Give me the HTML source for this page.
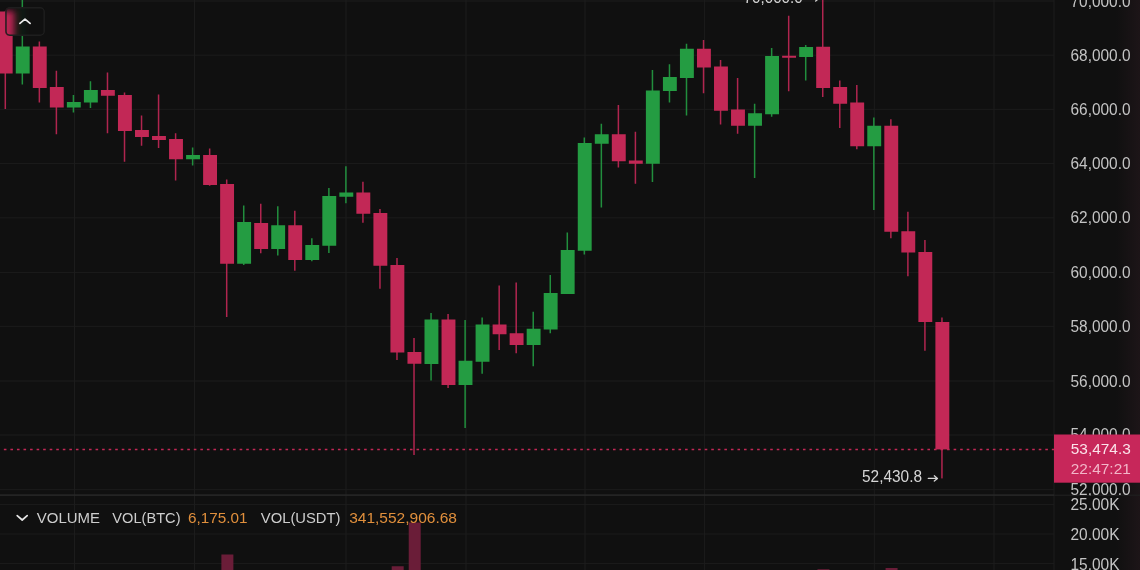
<!DOCTYPE html><html><head><meta charset="utf-8"><title>Chart</title><style>html,body{margin:0;padding:0;background:#101010;overflow:hidden}svg{display:block;filter:blur(0.45px)}text{font-family:"Liberation Sans",sans-serif}</style></head><body>
<svg width="1140" height="570" viewBox="0 0 1140 570">
<defs><linearGradient id="edge" x1="0" x2="1" y1="0" y2="0"><stop offset="0" stop-color="#2a1a20" stop-opacity="0"/><stop offset="1" stop-color="#2a1a20" stop-opacity="0.5"/></linearGradient><linearGradient id="btn" x1="0" x2="1" y1="0" y2="0"><stop offset="0" stop-color="#c8285c" stop-opacity="0.95"/><stop offset="0.12" stop-color="#c8285c" stop-opacity="0.7"/><stop offset="0.36" stop-color="#c8285c" stop-opacity="0"/></linearGradient></defs>
<rect width="1140" height="570" fill="#101010"/>
<rect x="1116" y="0" width="24" height="570" fill="url(#edge)"/>
<rect x="0" y="0.50" width="1054" height="1" fill="#1c1c1c"/>
<rect x="0" y="54.70" width="1054" height="1" fill="#1c1c1c"/>
<rect x="0" y="108.80" width="1054" height="1" fill="#1c1c1c"/>
<rect x="0" y="163.10" width="1054" height="1" fill="#1c1c1c"/>
<rect x="0" y="217.30" width="1054" height="1" fill="#1c1c1c"/>
<rect x="0" y="271.90" width="1054" height="1" fill="#1c1c1c"/>
<rect x="0" y="325.80" width="1054" height="1" fill="#1c1c1c"/>
<rect x="0" y="380.50" width="1054" height="1" fill="#1c1c1c"/>
<rect x="0" y="434.50" width="1054" height="1" fill="#1c1c1c"/>
<rect x="0" y="489.20" width="1054" height="1" fill="#1c1c1c"/>
<rect x="0" y="504.00" width="1054" height="1" fill="#1a1a1a"/>
<rect x="0" y="533.50" width="1054" height="1" fill="#1a1a1a"/>
<rect x="0" y="563.00" width="1054" height="1" fill="#1a1a1a"/>
<rect x="74.00" y="0" width="1" height="570" fill="#1c1c1c"/>
<rect x="194.00" y="0" width="1" height="570" fill="#1c1c1c"/>
<rect x="345.50" y="0" width="1" height="570" fill="#1c1c1c"/>
<rect x="465.50" y="0" width="1" height="570" fill="#1c1c1c"/>
<rect x="584.50" y="0" width="1" height="570" fill="#1c1c1c"/>
<rect x="703.90" y="0" width="1" height="570" fill="#1c1c1c"/>
<rect x="873.80" y="0" width="1" height="570" fill="#1c1c1c"/>
<rect x="993.50" y="0" width="1" height="570" fill="#1c1c1c"/>
<rect x="1053.5" y="0" width="1" height="570" fill="#1c1c1c"/>
<rect x="0" y="494.4" width="1054" height="1.4" fill="#2a2a2a"/>
<rect x="1054" y="494.6" width="86" height="1.2" fill="#202020"/>
<clipPath id="ax"><rect x="1054" y="-10" width="86" height="505.4"/></clipPath>
<rect x="221.39" y="554.50" width="12" height="15.50" fill="#6a1d38"/>
<rect x="408.72" y="522.50" width="12" height="47.50" fill="#6a1d38"/>
<rect x="391.69" y="566.25" width="12" height="3.75" fill="#6a1d38"/>
<rect x="817.44" y="569.20" width="12" height="0.80" fill="#6a1d38"/>
<rect x="885.56" y="568.00" width="12" height="2.00" fill="#6a1d38"/>
<rect x="4.55" y="11.50" width="1.50" height="97.50" fill="#c22856" fill-opacity="0.9"/>
<rect x="-1.25" y="11.50" width="13.90" height="62.00" fill="#c22856"/>
<rect x="21.58" y="0.00" width="1.50" height="84.50" fill="#249c42" fill-opacity="0.9"/>
<rect x="15.78" y="46.50" width="13.90" height="27.00" fill="#249c42"/>
<rect x="38.61" y="41.50" width="1.50" height="61.00" fill="#c22856" fill-opacity="0.9"/>
<rect x="32.81" y="46.50" width="13.90" height="41.50" fill="#c22856"/>
<rect x="55.64" y="70.75" width="1.50" height="63.50" fill="#c22856" fill-opacity="0.9"/>
<rect x="49.84" y="87.00" width="13.90" height="20.50" fill="#c22856"/>
<rect x="72.67" y="95.00" width="1.50" height="17.50" fill="#249c42" fill-opacity="0.9"/>
<rect x="66.87" y="102.00" width="13.90" height="5.50" fill="#249c42"/>
<rect x="89.70" y="81.25" width="1.50" height="26.75" fill="#249c42" fill-opacity="0.9"/>
<rect x="83.90" y="90.00" width="13.90" height="12.50" fill="#249c42"/>
<rect x="106.73" y="72.50" width="1.50" height="60.75" fill="#c22856" fill-opacity="0.9"/>
<rect x="100.93" y="90.00" width="13.90" height="5.75" fill="#c22856"/>
<rect x="123.76" y="92.50" width="1.50" height="69.25" fill="#c22856" fill-opacity="0.9"/>
<rect x="117.96" y="95.00" width="13.90" height="36.00" fill="#c22856"/>
<rect x="140.79" y="115.50" width="1.50" height="30.25" fill="#c22856" fill-opacity="0.9"/>
<rect x="134.99" y="130.00" width="13.90" height="7.00" fill="#c22856"/>
<rect x="157.82" y="94.50" width="1.50" height="53.50" fill="#c22856" fill-opacity="0.9"/>
<rect x="152.02" y="136.00" width="13.90" height="4.00" fill="#c22856"/>
<rect x="174.85" y="133.25" width="1.50" height="47.25" fill="#c22856" fill-opacity="0.9"/>
<rect x="169.05" y="139.00" width="13.90" height="20.25" fill="#c22856"/>
<rect x="191.88" y="147.50" width="1.50" height="18.00" fill="#249c42" fill-opacity="0.9"/>
<rect x="186.08" y="155.00" width="13.90" height="4.25" fill="#249c42"/>
<rect x="208.91" y="148.50" width="1.50" height="37.25" fill="#c22856" fill-opacity="0.9"/>
<rect x="203.11" y="155.00" width="13.90" height="30.00" fill="#c22856"/>
<rect x="225.94" y="179.50" width="1.50" height="137.50" fill="#c22856" fill-opacity="0.9"/>
<rect x="220.14" y="184.00" width="13.90" height="79.75" fill="#c22856"/>
<rect x="242.97" y="205.50" width="1.50" height="59.50" fill="#249c42" fill-opacity="0.9"/>
<rect x="237.17" y="222.00" width="13.90" height="41.75" fill="#249c42"/>
<rect x="260.00" y="203.75" width="1.50" height="49.50" fill="#c22856" fill-opacity="0.9"/>
<rect x="254.20" y="223.00" width="13.90" height="26.00" fill="#c22856"/>
<rect x="277.03" y="206.25" width="1.50" height="49.25" fill="#249c42" fill-opacity="0.9"/>
<rect x="271.23" y="225.25" width="13.90" height="23.75" fill="#249c42"/>
<rect x="294.06" y="210.75" width="1.50" height="60.00" fill="#c22856" fill-opacity="0.9"/>
<rect x="288.26" y="225.25" width="13.90" height="34.75" fill="#c22856"/>
<rect x="311.09" y="238.25" width="1.50" height="23.00" fill="#249c42" fill-opacity="0.9"/>
<rect x="305.29" y="245.00" width="13.90" height="15.00" fill="#249c42"/>
<rect x="328.12" y="188.00" width="1.50" height="65.00" fill="#249c42" fill-opacity="0.9"/>
<rect x="322.32" y="196.00" width="13.90" height="49.75" fill="#249c42"/>
<rect x="345.15" y="166.25" width="1.50" height="37.00" fill="#249c42" fill-opacity="0.9"/>
<rect x="339.35" y="192.50" width="13.90" height="4.25" fill="#249c42"/>
<rect x="362.18" y="181.75" width="1.50" height="41.00" fill="#c22856" fill-opacity="0.9"/>
<rect x="356.38" y="192.50" width="13.90" height="21.25" fill="#c22856"/>
<rect x="379.21" y="209.00" width="1.50" height="79.75" fill="#c22856" fill-opacity="0.9"/>
<rect x="373.41" y="213.00" width="13.90" height="52.75" fill="#c22856"/>
<rect x="396.24" y="258.00" width="1.50" height="102.00" fill="#c22856" fill-opacity="0.9"/>
<rect x="390.44" y="265.00" width="13.90" height="87.50" fill="#c22856"/>
<rect x="413.27" y="338.00" width="1.50" height="117.00" fill="#c22856" fill-opacity="0.9"/>
<rect x="407.47" y="352.00" width="13.90" height="11.75" fill="#c22856"/>
<rect x="430.30" y="313.00" width="1.50" height="67.50" fill="#249c42" fill-opacity="0.9"/>
<rect x="424.50" y="319.50" width="13.90" height="44.50" fill="#249c42"/>
<rect x="447.33" y="314.00" width="1.50" height="74.00" fill="#c22856" fill-opacity="0.9"/>
<rect x="441.53" y="319.50" width="13.90" height="65.50" fill="#c22856"/>
<rect x="464.36" y="320.00" width="1.50" height="108.00" fill="#249c42" fill-opacity="0.9"/>
<rect x="458.56" y="360.75" width="13.90" height="24.25" fill="#249c42"/>
<rect x="481.39" y="317.50" width="1.50" height="56.25" fill="#249c42" fill-opacity="0.9"/>
<rect x="475.59" y="324.50" width="13.90" height="37.25" fill="#249c42"/>
<rect x="498.42" y="285.50" width="1.50" height="64.50" fill="#c22856" fill-opacity="0.9"/>
<rect x="492.62" y="324.50" width="13.90" height="9.75" fill="#c22856"/>
<rect x="515.45" y="282.50" width="1.50" height="70.75" fill="#c22856" fill-opacity="0.9"/>
<rect x="509.65" y="333.25" width="13.90" height="11.75" fill="#c22856"/>
<rect x="532.48" y="311.75" width="1.50" height="54.50" fill="#249c42" fill-opacity="0.9"/>
<rect x="526.68" y="328.75" width="13.90" height="16.25" fill="#249c42"/>
<rect x="549.51" y="275.00" width="1.50" height="58.25" fill="#249c42" fill-opacity="0.9"/>
<rect x="543.71" y="293.00" width="13.90" height="36.50" fill="#249c42"/>
<rect x="566.54" y="232.50" width="1.50" height="61.50" fill="#249c42" fill-opacity="0.9"/>
<rect x="560.74" y="250.00" width="13.90" height="44.00" fill="#249c42"/>
<rect x="583.57" y="137.50" width="1.50" height="117.00" fill="#249c42" fill-opacity="0.9"/>
<rect x="577.77" y="143.00" width="13.90" height="107.75" fill="#249c42"/>
<rect x="600.60" y="123.75" width="1.50" height="83.75" fill="#249c42" fill-opacity="0.9"/>
<rect x="594.80" y="134.25" width="13.90" height="9.50" fill="#249c42"/>
<rect x="617.63" y="105.00" width="1.50" height="62.50" fill="#c22856" fill-opacity="0.9"/>
<rect x="611.83" y="134.25" width="13.90" height="27.00" fill="#c22856"/>
<rect x="634.66" y="131.75" width="1.50" height="52.00" fill="#c22856" fill-opacity="0.9"/>
<rect x="628.86" y="160.50" width="13.90" height="3.25" fill="#c22856"/>
<rect x="651.69" y="70.00" width="1.50" height="112.00" fill="#249c42" fill-opacity="0.9"/>
<rect x="645.89" y="90.50" width="13.90" height="73.25" fill="#249c42"/>
<rect x="668.72" y="64.25" width="1.50" height="38.25" fill="#249c42" fill-opacity="0.9"/>
<rect x="662.92" y="77.00" width="13.90" height="14.00" fill="#249c42"/>
<rect x="685.75" y="43.75" width="1.50" height="71.75" fill="#249c42" fill-opacity="0.9"/>
<rect x="679.95" y="48.75" width="13.90" height="29.25" fill="#249c42"/>
<rect x="702.78" y="40.00" width="1.50" height="53.25" fill="#c22856" fill-opacity="0.9"/>
<rect x="696.98" y="48.75" width="13.90" height="18.75" fill="#c22856"/>
<rect x="719.81" y="60.00" width="1.50" height="64.50" fill="#c22856" fill-opacity="0.9"/>
<rect x="714.01" y="66.50" width="13.90" height="44.25" fill="#c22856"/>
<rect x="736.84" y="78.00" width="1.50" height="55.75" fill="#c22856" fill-opacity="0.9"/>
<rect x="731.04" y="109.50" width="13.90" height="16.25" fill="#c22856"/>
<rect x="753.87" y="103.75" width="1.50" height="74.25" fill="#249c42" fill-opacity="0.9"/>
<rect x="748.07" y="113.25" width="13.90" height="12.50" fill="#249c42"/>
<rect x="770.90" y="48.00" width="1.50" height="68.75" fill="#249c42" fill-opacity="0.9"/>
<rect x="765.10" y="56.00" width="13.90" height="58.25" fill="#249c42"/>
<rect x="787.93" y="15.75" width="1.50" height="75.50" fill="#c22856" fill-opacity="0.9"/>
<rect x="782.13" y="55.75" width="13.90" height="2.00" fill="#c22856"/>
<rect x="804.96" y="45.00" width="1.50" height="35.50" fill="#249c42" fill-opacity="0.9"/>
<rect x="799.16" y="47.00" width="13.90" height="10.00" fill="#249c42"/>
<rect x="821.99" y="0.00" width="1.50" height="97.00" fill="#c22856" fill-opacity="0.9"/>
<rect x="816.19" y="46.75" width="13.90" height="41.25" fill="#c22856"/>
<rect x="839.02" y="80.50" width="1.50" height="47.50" fill="#c22856" fill-opacity="0.9"/>
<rect x="833.22" y="87.00" width="13.90" height="16.75" fill="#c22856"/>
<rect x="856.05" y="85.00" width="1.50" height="64.25" fill="#c22856" fill-opacity="0.9"/>
<rect x="850.25" y="102.50" width="13.90" height="43.75" fill="#c22856"/>
<rect x="873.08" y="117.50" width="1.50" height="92.50" fill="#249c42" fill-opacity="0.9"/>
<rect x="867.28" y="125.75" width="13.90" height="20.50" fill="#249c42"/>
<rect x="890.11" y="119.25" width="1.50" height="119.00" fill="#c22856" fill-opacity="0.9"/>
<rect x="884.31" y="125.75" width="13.90" height="106.00" fill="#c22856"/>
<rect x="907.14" y="211.75" width="1.50" height="64.50" fill="#c22856" fill-opacity="0.9"/>
<rect x="901.34" y="231.25" width="13.90" height="21.25" fill="#c22856"/>
<rect x="924.17" y="240.00" width="1.50" height="110.75" fill="#c22856" fill-opacity="0.9"/>
<rect x="918.37" y="252.00" width="13.90" height="70.00" fill="#c22856"/>
<rect x="941.20" y="317.50" width="1.50" height="160.90" fill="#c22856" fill-opacity="0.9"/>
<rect x="935.40" y="322.00" width="13.90" height="127.40" fill="#c22856"/>
<line x1="-2.7" y1="449.5" x2="1054" y2="449.5" stroke="#c22856" stroke-width="1.7" stroke-dasharray="2.6 3.95"/>
<text x="1070.50" y="6.73" font-size="16" fill="#c4c4c4" textLength="60.00" lengthAdjust="spacingAndGlyphs" clip-path="url(#ax)">70,000.0</text>
<text x="1070.50" y="60.73" font-size="16" fill="#c4c4c4" textLength="60.00" lengthAdjust="spacingAndGlyphs" clip-path="url(#ax)">68,000.0</text>
<text x="1070.50" y="114.73" font-size="16" fill="#c4c4c4" textLength="60.00" lengthAdjust="spacingAndGlyphs" clip-path="url(#ax)">66,000.0</text>
<text x="1070.50" y="168.73" font-size="16" fill="#c4c4c4" textLength="60.00" lengthAdjust="spacingAndGlyphs" clip-path="url(#ax)">64,000.0</text>
<text x="1070.50" y="222.73" font-size="16" fill="#c4c4c4" textLength="60.00" lengthAdjust="spacingAndGlyphs" clip-path="url(#ax)">62,000.0</text>
<text x="1070.50" y="277.73" font-size="16" fill="#c4c4c4" textLength="60.00" lengthAdjust="spacingAndGlyphs" clip-path="url(#ax)">60,000.0</text>
<text x="1070.50" y="331.73" font-size="16" fill="#c4c4c4" textLength="60.00" lengthAdjust="spacingAndGlyphs" clip-path="url(#ax)">58,000.0</text>
<text x="1070.50" y="386.53" font-size="16" fill="#c4c4c4" textLength="60.00" lengthAdjust="spacingAndGlyphs" clip-path="url(#ax)">56,000.0</text>
<text x="1070.50" y="440.23" font-size="16" fill="#c4c4c4" textLength="60.00" lengthAdjust="spacingAndGlyphs" clip-path="url(#ax)">54,000.0</text>
<text x="1070.50" y="495.43" font-size="16" fill="#c4c4c4" textLength="60.00" lengthAdjust="spacingAndGlyphs" clip-path="url(#ax)">52,000.0</text>
<text x="1070.50" y="510.23" font-size="16" fill="#c4c4c4" textLength="49.00" lengthAdjust="spacingAndGlyphs">25.00K</text>
<text x="1070.50" y="540.43" font-size="16" fill="#c4c4c4" textLength="49.00" lengthAdjust="spacingAndGlyphs">20.00K</text>
<text x="1070.50" y="569.73" font-size="16" fill="#c4c4c4" textLength="49.00" lengthAdjust="spacingAndGlyphs">15.00K</text>
<rect x="1054" y="434.5" width="86" height="48.2" fill="#c7275a"/>
<text x="1070.80" y="454.15" font-size="15.5" fill="#fbe3ea" textLength="60.00" lengthAdjust="spacingAndGlyphs">53,474.3</text>
<text x="1070.80" y="474.25" font-size="15.5" fill="#f2b6c8" textLength="60.00" lengthAdjust="spacingAndGlyphs">22:47:21</text>
<text x="862.00" y="482.03" font-size="16" fill="#d6d6d6" textLength="60.00" lengthAdjust="spacingAndGlyphs">52,430.8</text>
<path d="M928.3 478.4H937.3M934.3 475.8L937.5 478.4L934.3 481" fill="none" stroke="#d6d6d6" stroke-width="1.3" stroke-linecap="round" stroke-linejoin="round"/>
<text x="743.70" y="3.13" font-size="16" fill="#d6d6d6" textLength="59.00" lengthAdjust="spacingAndGlyphs">70,000.0</text>
<path d="M810 -1.6H818.7M815.7 -4.2L818.9 -1.6L815.7 1" fill="none" stroke="#d6d6d6" stroke-width="1.3" stroke-linecap="round" stroke-linejoin="round"/>
<path d="M17.2 515.6L22.2 520L27.2 515.6" fill="none" stroke="#e6e6e6" stroke-width="1.7" stroke-linecap="round" stroke-linejoin="round"/>
<text x="36.80" y="523.45" font-size="15.5" fill="#cdcdcd" textLength="63.20" lengthAdjust="spacingAndGlyphs">VOLUME</text>
<text x="112.30" y="523.45" font-size="15.5" fill="#cdcdcd" textLength="68.20" lengthAdjust="spacingAndGlyphs">VOL(BTC)</text>
<text x="188.00" y="523.45" font-size="15.5" fill="#e08f3c" textLength="59.50" lengthAdjust="spacingAndGlyphs">6,175.01</text>
<text x="260.80" y="523.45" font-size="15.5" fill="#cdcdcd" textLength="79.70" lengthAdjust="spacingAndGlyphs">VOL(USDT)</text>
<text x="349.20" y="523.45" font-size="15.5" fill="#e08f3c" textLength="107.80" lengthAdjust="spacingAndGlyphs">341,552,906.68</text>
<clipPath id="bc"><rect x="5.3" y="7" width="39.6" height="29" rx="4.5"/></clipPath>
<filter id="bb" x="-50" y="-50" width="200" height="200" filterUnits="userSpaceOnUse"><feGaussianBlur stdDeviation="3.2"/></filter>
<g clip-path="url(#bc)"><rect x="0" y="0" width="60" height="50" fill="#101010"/><g filter="url(#bb)"><rect x="-30" y="11" width="44.3" height="62" fill="#c22856"/><rect x="21.3" y="-20" width="1.6" height="104" fill="#249c42" fill-opacity="0.35"/></g><rect x="0" y="0" width="60" height="50" fill="#101010" fill-opacity="0.05"/></g>
<rect x="6" y="7.7" width="38.2" height="27.6" rx="4" fill="none" stroke="#1e1e1e" stroke-width="1.4"/>
<path d="M19.9 23.4L25 19.1L30.1 23.4" fill="none" stroke="#ececec" stroke-width="1.7" stroke-linecap="round" stroke-linejoin="round"/>
</svg></body></html>
